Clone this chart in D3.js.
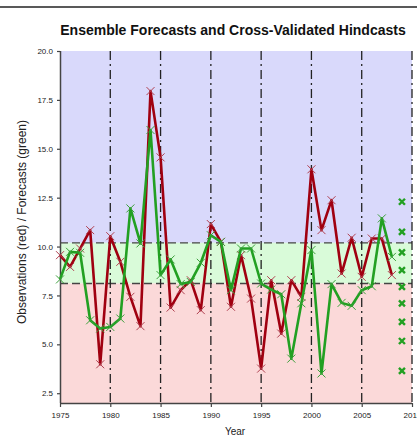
<!DOCTYPE html>
<html><head><meta charset="utf-8">
<script src="https://cdn.jsdelivr.net/npm/d3@7"></script>
<style>
html,body{margin:0;padding:0;background:#fff;}
svg{display:block;font-family:"Liberation Sans",Arial,sans-serif;}
</style></head>
<body>
<svg id="c" width="417" height="437"></svg>
<script>
const years = [1975,1976,1977,1978,1979,1980,1981,1982,1983,1984,1985,1986,1987,1988,1989,1990,1991,1992,1993,1994,1995,1996,1997,1998,1999,2000,2001,2002,2003,2004,2005,2006,2007,2008];
const observations = [9.56,8.96,9.9,10.84,3.98,10.53,9.22,7.43,5.93,17.95,14.56,6.88,7.77,8.28,6.75,11.15,10.24,6.92,9.56,7.34,3.76,8.28,5.55,8.28,7.43,13.95,10.84,12.37,8.62,10.45,8.45,10.41,10.41,8.54];
const forecasts = [8.32,9.73,9.68,6.23,5.81,5.89,6.32,11.95,10.16,15.96,8.54,9.34,8.08,8.19,9.17,10.58,10.24,7.77,9.9,9.9,8.11,7.8,7.56,4.27,7.1,9.82,3.51,8.08,7.12,6.97,7.77,7.97,11.44,9.47];
const ensembleYear = 2009;
const ensemble = [12.29,10.75,9.70,8.79,7.94,7.09,6.15,5.17,3.64];
const terciles = [8.11,10.19];
const yTicks = [2.5,5,7.5,10,12.5,15,17.5,20];
const xTicks = [1975,1980,1985,1990,1995,2000,2005,2010];
const xDomain = [1975,2010];
const yDomain = [2,20];

const svg = d3.select("#c");
const L=60, R=412, T=51, B=403;
const x = d3.scaleLinear().domain(xDomain).range([L,R]);
const y = d3.scaleLinear().domain(yDomain).range([B,T]);

// top rule
svg.append("line").attr("x1",0).attr("x2",417).attr("y1",7).attr("y2",7).attr("stroke","#222").attr("stroke-width",1.5);

// background bands
const bands = [
  {lo:terciles[1], hi:yDomain[1], c:"#d9d9fb"},
  {lo:terciles[0], hi:terciles[1], c:"#d9fbd9"},
  {lo:yDomain[0], hi:terciles[0], c:"#fbd9d9"}
];
svg.selectAll("rect.band").data(bands).enter().append("rect")
  .attr("x",L).attr("width",R-L)
  .attr("y",d=>y(d.hi)).attr("height",d=>y(d.lo)-y(d.hi))
  .attr("fill",d=>d.c);

// tercile lines
svg.selectAll("line.terc").data(terciles).enter().append("line")
  .attr("x1",L).attr("x2",R).attr("y1",d=>y(d)).attr("y2",d=>y(d))
  .attr("stroke","#444").attr("stroke-width",1.3).attr("stroke-dasharray","8,4");

// vertical dash-dot lines
svg.selectAll("line.vl").data(xTicks.slice(1)).enter().append("line")
  .attr("x1",d=>x(d)).attr("x2",d=>x(d)).attr("y1",T).attr("y2",B)
  .attr("stroke","#222").attr("stroke-width",1.3).attr("stroke-dasharray","9,4,2,4");

// axes
const yAxis = d3.axisLeft(y).tickValues(yTicks).tickFormat(d3.format(".1f")).tickSize(3).tickPadding(4);
const xAxis = d3.axisBottom(x).tickValues(xTicks).tickFormat(d3.format("d")).tickSize(4).tickPadding(5);
const ga = svg.append("g").attr("transform",`translate(${L},0)`).call(yAxis);
const gb = svg.append("g").attr("transform",`translate(0,${B})`).call(xAxis);
[ga,gb].forEach(g=>{
  g.select(".domain").attr("stroke","#444").attr("stroke-width",1.5);
  g.selectAll(".tick line").attr("stroke","#444").attr("stroke-width",1.2);
  g.selectAll(".tick text").attr("font-size","8px").attr("fill","#222").attr("font-family","'Liberation Sans',Arial,sans-serif");
});
gb.select(".domain").attr("d",`M${L},0.5H${R}`);
ga.select(".domain").attr("d",`M0.5,${T}V${B}`);

// lines
const line = d3.line().x(d=>x(d[0])).y(d=>y(d[1]));
const obsPts = years.map((yr,i)=>[yr,observations[i]]);
const fcPts = years.map((yr,i)=>[yr,forecasts[i]]);

function cross(g, pts, color, s, w){
  g.selectAll("path.x").data(pts).enter().append("path")
    .attr("d",d=>{const cx=x(d[0]), cy=y(d[1]); return `M${cx-s},${cy-s}L${cx+s},${cy+s}M${cx-s},${cy+s}L${cx+s},${cy-s}`;})
    .attr("stroke",color).attr("stroke-width",w).attr("fill","none");
}

svg.append("path").datum(obsPts).attr("d",line).attr("fill","none").attr("stroke","#a00010").attr("stroke-width",2.6).attr("stroke-linejoin","round");
cross(svg.append("g"), obsPts, "#b04050", 4, 1);
svg.append("path").datum(fcPts).attr("d",line).attr("fill","none").attr("stroke","#22a022").attr("stroke-width",2.6).attr("stroke-linejoin","round");
cross(svg.append("g"), fcPts, "#3aa03a", 4, 1);

// ensemble members
cross(svg.append("g"), ensemble.map(v=>[ensembleYear,v]), "#22a022", 3, 2.4);

// title and labels
svg.append("text").attr("x",233).attr("y",35).attr("text-anchor","middle")
  .attr("font-size","14px").attr("font-weight","bold").attr("fill","#111")
  .text("Ensemble Forecasts and Cross-Validated Hindcasts");
svg.append("text").attr("transform","translate(26,222) rotate(-90)").attr("text-anchor","middle")
  .attr("font-size","12px").attr("fill","#222")
  .text("Observations (red) / Forecasts (green)");
svg.append("text").attr("x",235).attr("y",435).attr("text-anchor","middle")
  .attr("font-size","10px").attr("fill","#222").text("Year");
</script>
</body></html>
